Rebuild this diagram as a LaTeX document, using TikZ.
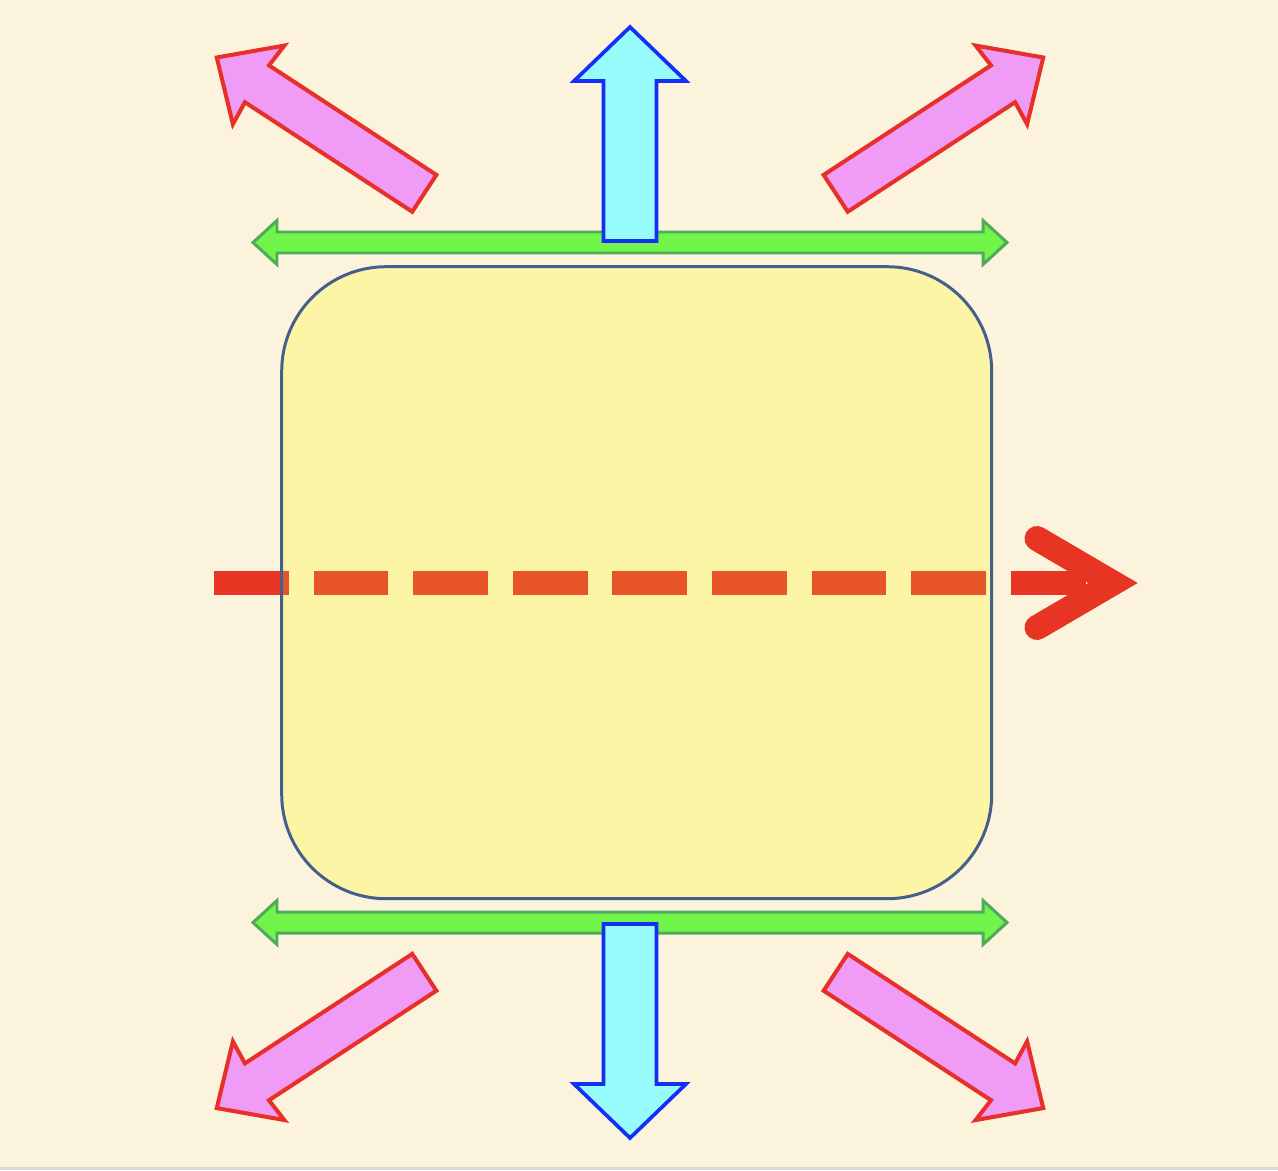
\documentclass[tikz,border=0pt]{standalone}
\definecolor{cBg}{HTML}{FBF3DC}
\definecolor{cEdge}{HTML}{D9D9D9}
\definecolor{cYellow}{HTML}{FCF5A6}
\definecolor{cBoxLine}{HTML}{455F8C}
\definecolor{cRed}{HTML}{E83423}
\definecolor{cOrange}{HTML}{E85528}
\definecolor{cPink}{HTML}{F09CF6}
\definecolor{cPinkLine}{HTML}{E8302A}
\definecolor{cCyan}{HTML}{97FBFC}
\definecolor{cBlueLine}{HTML}{1530F5}
\definecolor{cGreen}{HTML}{71F54B}
\definecolor{cGreenLine}{HTML}{4FAA5A}
\tikzset{
  pinkarrow/.style={draw=cPinkLine,fill=cPink,line width=2.3pt,line join=miter},
  bluearrow/.style={draw=cBlueLine,fill=cCyan,line width=2.1pt,line join=miter},
  greenarrow/.style={draw=cGreenLine,fill=cGreen,line width=1.7pt,line join=miter},
  dashline/.style={line width=14.2pt,dash pattern=on 42.5pt off 14.2pt},
  boxcorner/.style={rounded corners=59.5pt}
}
\begin{document}
\begin{tikzpicture}[x=0.02cm,y=-0.02cm]
\fill[cBg] (0,0) rectangle (1278,1170);
\useasboundingbox (0,0) rectangle (1278,1170);
\fill[cEdge] (0,1167) rectangle (1278,1170);

\coordinate (cBoxA) at (281.7,266.7);
\coordinate (cBoxB) at (991.7,898.7);
\coordinate (cLineS) at (214,583);
\coordinate (cLineE) at (1089,583);

% green double arrows
\foreach \y in {242.5,922.5}
{
\begin{scope}[shift={(630,\y)}]
\draw[greenarrow] (-377,0) -- (-353,-22) -- (-353,-10.5) -- (353,-10.5)
  -- (353,-22) -- (377,0) -- (353,22) -- (353,10.5) -- (-353,10.5)
  -- (-353,22) -- cycle;
\end{scope}
};

% blue arrows up and down
\foreach \y/\a in {241/90, 924/-90}
{
\begin{scope}[shift={(630,\y)},rotate=\a]
\draw[bluearrow] (0,-26.5) -- (160,-26.5) -- (160,-56) -- (214,0)
  -- (160,56) -- (160,26.5) -- (0,26.5) -- cycle;
\end{scope}
};

% pink arrows at the corners
\foreach \x/\y/\a in {424.3/193.3/146.8, 835.7/193.3/33.2,
    424.3/972.3/-146.8, 835.7/972.3/-33.2}
{
\begin{scope}[shift={(\x,\y)},rotate=\a]
\draw[pinkarrow] (0,-22) -- (200,-22) -- (198,-47) -- (248,0)
  -- (198,47) -- (200,22) -- (0,22) -- cycle;
\end{scope}
};

% box
\fill[cYellow,boxcorner] (cBoxA) rectangle (cBoxB);
\draw[cRed,dashline] (cLineS) -- (cLineE);
\begin{scope}
\clip[boxcorner] (cBoxA) rectangle (cBoxB);
\draw[cOrange,dashline] (cLineS) -- (cLineE);
\end{scope}
\draw[cBoxLine,line width=1.7pt,boxcorner] (cBoxA) rectangle (cBoxB);

% arrow head
\coordinate (cHeadA) at (1037,538.5);
\coordinate (cHeadT) at (1113,583);
\coordinate (cHeadB) at (1037,627.5);
\draw[cRed,line width=14.2pt,line cap=round,line join=miter] (cHeadA) -- (cHeadT) -- (cHeadB);

\end{tikzpicture}
\end{document}
